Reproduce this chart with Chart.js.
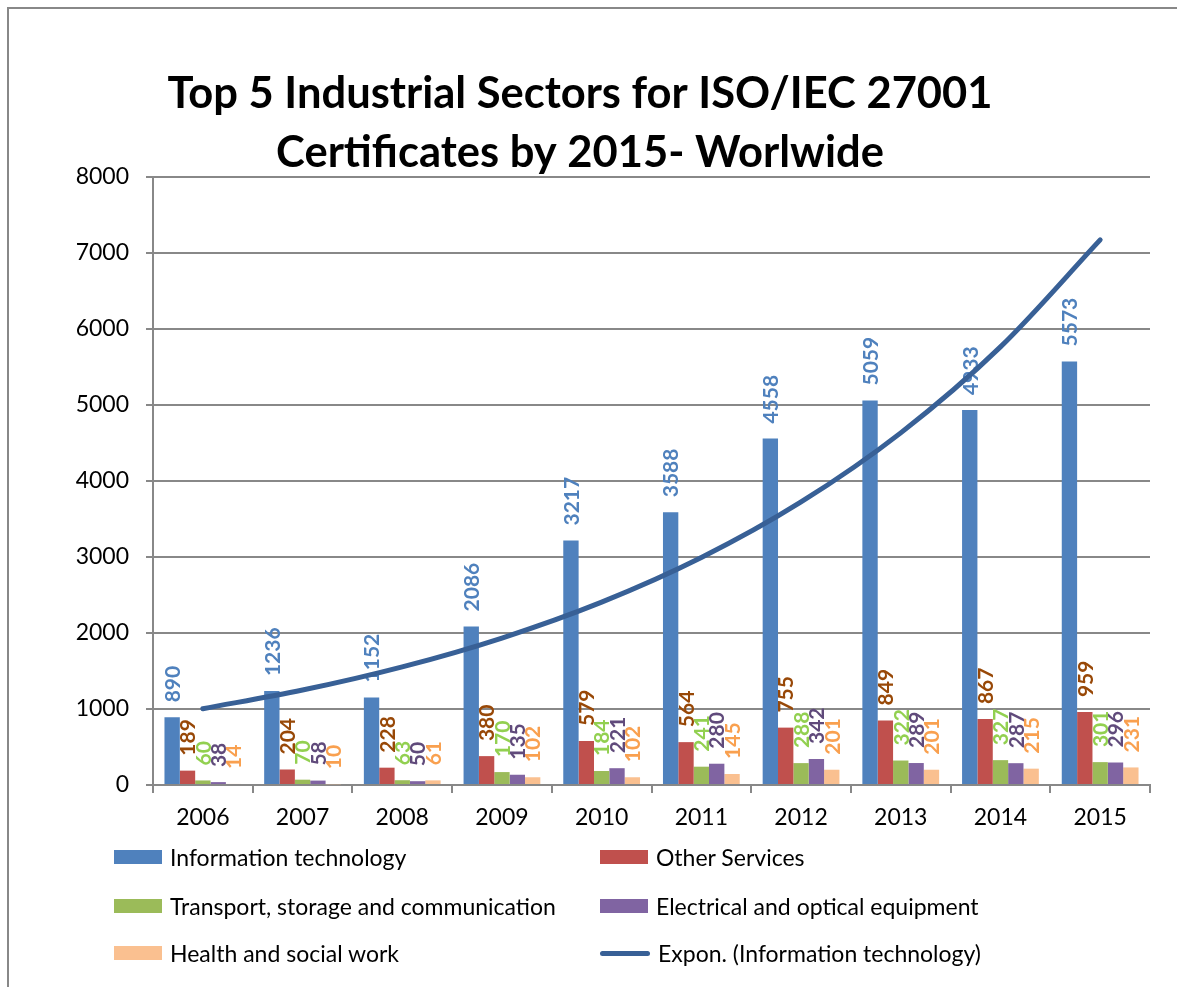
<!DOCTYPE html>
<html>
<head>
<meta charset="utf-8">
<script src="https://cdn.jsdelivr.net/npm/chart.js@4.4.1/dist/chart.umd.min.js"></script>
<style>
  body { margin: 0; background: #fff; font-family: Lato, sans-serif; }
  #wrap { position: relative; width: 1177px; height: 987px; overflow: hidden; background: #fff; }
  #frame { position: absolute; left: 7px; top: 7px; width: 1300px; height: 1100px; border: 2px solid #888; }
  #chart { position: absolute; left: 0; top: 0; }
  .item { position: absolute; display: flex; align-items: center; font-size: 23px; color: #000; white-space: nowrap; height: 30px; }
  .swatch { width: 48px; height: 14px; margin-right: 8px; }
  .swatch.line { width: 50px; height: 5px; border-radius: 3px; }
</style>
</head>
<body>
<div id="wrap">
  <div id="frame"></div>
  <canvas id="chart" width="1177" height="987"></canvas>
  <div id="legend"></div>
</div>
<script>
const years = ["2006","2007","2008","2009","2010","2011","2012","2013","2014","2015"];
const infoTech   = [890, 1236, 1152, 2086, 3217, 3588, 4558, 5059, 4933, 5573];
const otherServ  = [189, 204, 228, 380, 579, 564, 755, 849, 867, 959];
const transport  = [60, 70, 63, 170, 184, 241, 288, 322, 327, 301];
const electrical = [38, 58, 50, 135, 221, 280, 342, 289, 287, 296];
const health     = [14, 10, 61, 102, 102, 145, 201, 201, 215, 231];
// exponential trendline of IT
const itTrend    = [1004, 1249, 1554, 1934, 2406, 2993, 3724, 4633, 5764, 7172];
const yTicks = [0, 1000, 2000, 3000, 4000, 5000, 6000, 7000, 8000];

const barColors   = ["#4F81BD", "#C0504D", "#9BBB59", "#8064A2", "#FAC090"];
const labelColors = ["#4F81BD", "#984807", "#92D050", "#604A7B", "#F9A04F"];
const trendColor = "#386096";

const FONT = "Lato, 'Open Sans', sans-serif";

// value labels drawn rotated above every bar (before datasets so the trendline sits on top)
const barLabels = {
  id: "barLabels",
  beforeDatasetsDraw(chart) {
    const ctx = chart.ctx;
    ctx.save();
    ctx.font = "bold 21px " + FONT;
    ctx.textAlign = "left";
    ctx.textBaseline = "middle";
    chart.data.datasets.forEach((ds, i) => {
      if (ds.type === "line") return;
      const meta = chart.getDatasetMeta(i);
      ctx.fillStyle = labelColors[i];
      meta.data.forEach((bar, j) => {
        ctx.save();
        ctx.translate(bar.x + 1, bar.y - 15);
        ctx.rotate(-Math.PI / 2);
        ctx.fillText(String(ds.data[j]), 0, 0);
        ctx.restore();
      });
    });
    ctx.restore();
  }
};

function barSet(label, data, i) {
  return {
    label, data,
    backgroundColor: barColors[i],
    borderWidth: 0,
    categoryPercentage: 0.77,
    barPercentage: 1.0
  };
}

const chart = new Chart(document.getElementById("chart"), {
  type: "bar",
  data: {
    labels: years,
    datasets: [
      barSet("Information technology", infoTech, 0),
      barSet("Other Services", otherServ, 1),
      barSet("Transport, storage and communication", transport, 2),
      barSet("Electrical and optical equipment", electrical, 3),
      barSet("Health and social work", health, 4),
      {
        type: "line",
        label: "Expon. (Information technology)",
        data: itTrend,
        borderColor: trendColor,
        borderWidth: 5,
        borderCapStyle: "round",
        pointRadius: 0,
        cubicInterpolationMode: "monotone",
        fill: false,
        order: -1
      }
    ]
  },
  options: {
    responsive: false,
    animation: false,
    layout: { padding: { left: 10, right: 27, top: 1, bottom: 152 } },
    plugins: {
      legend: { display: false },
      tooltip: { enabled: false },
      title: {
        display: true,
        text: ["Top 5 Industrial Sectors for ISO/IEC 27001", "Certificates by 2015- Worlwide"],
        color: "#000",
        font: { family: FONT, size: 43.5, weight: "bold", lineHeight: 1.356 },
        padding: { top: 63, bottom: -5 }
      }
    },
    scales: {
      x: {
        grid: { drawOnChartArea: false, drawTicks: true, tickLength: 8, color: "#888", lineWidth: 2 },
        border: { color: "#888", width: 2 },
        ticks: { color: "#000", font: { family: FONT, size: 23 }, padding: 11, maxRotation: 0 },
        afterFit: s => { s.height = 50; }
      },
      y: {
        min: 0, max: 8000,
        afterBuildTicks: s => { s.ticks = yTicks.map(v => ({ value: v })); },
        grid: { color: "#888", lineWidth: 2, tickLength: 7 },
        border: { color: "#888", width: 2 },
        ticks: { color: "#000", font: { family: FONT, size: 23 }, padding: 17, callback: v => String(v) },
        afterFit: s => { s.width = 143; }
      }
    }
  },
  plugins: [barLabels]
});

// two-column legend below the plot, built from the datasets
const legendPos = { cols: [114, 600], rows: [857, 906, 953] };
const legend = document.getElementById("legend");
chart.data.datasets.forEach((ds, i) => {
  const item = document.createElement("div");
  item.className = "item";
  item.style.left = legendPos.cols[i % 2] + "px";
  item.style.top = (legendPos.rows[Math.floor(i / 2)] - 15) + "px";
  const sw = document.createElement("span");
  sw.className = "swatch" + (ds.type === "line" ? " line" : "");
  sw.style.background = ds.type === "line" ? ds.borderColor : ds.backgroundColor;
  const txt = document.createElement("span");
  txt.textContent = ds.label;
  item.appendChild(sw);
  item.appendChild(txt);
  legend.appendChild(item);
});
</script>
</body>
</html>
